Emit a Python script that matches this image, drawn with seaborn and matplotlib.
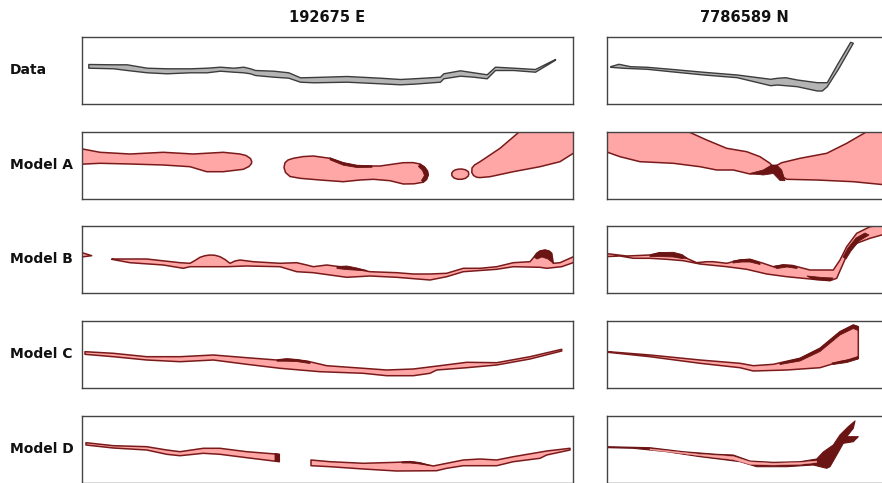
import numpy as np
import matplotlib
matplotlib.use("Agg")
import matplotlib.pyplot as plt
import seaborn as sns

sns.set_theme(style="white")
plt.rcParams['font.family'] = ['DejaVu Sans']

# ---------------- labels ----------------
col_titles = ["192675 E", "7786589 N"]
row_labels = ["Data", "Model A", "Model B", "Model C", "Model D"]

# ---------------- data (panel units: distance x, depth y) ----------------
# Data, 192675 E : band with shared x
data_e_x = [6.3, 31.3, 44.7, 64.7, 84.7, 108, 124.7, 138, 151.3, 161.3, 168, 173, 191.3, 206.3, 218,
            231.3, 264.7, 298, 318, 331.3, 358, 361.3, 378, 391.3, 404.7, 413, 431.3, 453, 473]
data_e_top = [27, 27.3, 27.3, 30.7, 31.3, 31.3, 30.7, 29.7, 30.7, 29.7, 31.3, 33, 33.7, 35.3, 40.3,
              40, 39, 40.7, 42, 41.3, 39.7, 36.3, 33.3, 35.3, 37.3, 29.7, 30.7, 32, 22]
data_e_bot = [30.7, 31.3, 33, 35.3, 36.3, 35.3, 35.3, 33.7, 34.7, 35.3, 36.3, 38, 39.7, 40.7, 44.7,
              45.3, 44.7, 46.3, 47.3, 46.7, 44.7, 41.3, 38.7, 39.7, 41.3, 33, 33, 34.7, 22.7]

# Data, 7786589 N : outline
data_n_x = [3.7, 12, 23.7, 40.3, 63.7, 97, 130.3, 163.7, 170.3, 178.7, 190.3, 210.3, 220.3, 230.3, 243.7,
            246.3, 232, 220.3, 215.3, 210.3, 190.3, 178.7, 170.3, 163.7, 130.3, 97, 63.7, 40.3, 17, 3.7]
data_n_y = [29.7, 27.3, 29.7, 30.3, 32.3, 35.3, 38, 42.3, 41.3, 40.7, 43, 45.7, 45.7, 28, 5.3,
            6.3, 31.3, 49.7, 54, 54, 49.7, 48.7, 48, 48.7, 40.7, 38, 34.7, 32.3, 31.3, 30.3]

# Model A, 192675 E : four bodies
mA_e1_x = [-3, 18, 48, 81.3, 111.3, 141.3, 158, 164, 168.5, 169.7, 169.5, 167, 161.3, 141.3, 124.7, 108,
           81.3, 48, 18, -3]
mA_e1_y = [16.3, 20.3, 22, 20.3, 22, 20.3, 22, 23.5, 26.5, 29.5, 31.5, 34.5, 37.3, 39.7, 39.7, 34.7,
           33, 32, 31.3, 32.3]
mA_e2_x = [203, 206, 211.3, 221, 231.3, 248, 261.3, 274.7, 298, 321.3, 331, 338, 342.5, 345.5, 346.3,
           344.5, 341.3, 332, 321.3, 308, 291.3, 278, 261.3, 238, 218, 208, 203.5, 202]
mA_e2_y = [30.7, 28, 26.3, 24.6, 24, 26.3, 31.3, 34, 34, 30.7, 30.6, 32, 35, 39, 43, 47.5, 50.2, 51.8,
           52, 48.7, 47.3, 48, 49.7, 48, 46.3, 44.5, 40.5, 35.5]
mA_e3_x = [369.7, 371, 373, 376, 379.7, 383.5, 386.3, 386.8, 386.3, 383.5, 379.7, 375.5, 372, 370]
mA_e3_y = [41.3, 39.3, 38, 37.2, 37, 37.8, 39.7, 42, 44, 46.3, 47.3, 47.2, 46, 43.8]
mA_e4_x = [390, 392.5, 398, 418, 436.3, 438, 495, 495, 491.3, 478, 458, 431.3, 408, 398, 394.7, 391.5,
           389.8]
mA_e4_y = [36, 33, 29.7, 16.3, 0.7, -3, -3, 19, 21.3, 29.7, 34.7, 39.7, 44.7, 45.6, 45.3, 43.5, 40.5]
mA_e_dark1_x = [248, 261.3, 275, 290, 290, 275, 261.3, 248]
mA_e_dark1_y = [25.8, 30.5, 33.2, 33.8, 35.3, 35.5, 33.2, 27.8]
mA_e_dark2_x = [338, 342.5, 345.5, 346.3, 344.5, 341.3, 339.5, 342.5, 340.5, 336.5]
mA_e_dark2_y = [32, 35, 39, 43, 47.5, 50.2, 48.5, 43.5, 38.5, 34.5]

# Model A, 7786589 N : two bodies meeting
mA_n1_x = [-3, 81.3, 99.7, 119.7, 139.7, 153, 163, 166.3, 156.3, 143, 126.3, 109.7, 93, 66.3, 33, 13, -3]
mA_n1_y = [-3, -0.3, 8, 16.3, 19.7, 24.7, 31.3, 35.3, 41.3, 42, 38, 38, 34.7, 31.3, 29.7, 24.7, 19]
mA_n2_x = [166.3, 174.7, 193, 219.7, 239.7, 259.7, 263, 285, 285, 246.3, 209.7, 179.7, 169.7]
mA_n2_y = [35.3, 30.7, 26.3, 21.3, 11.3, -0.3, -3, -3, 53.5, 49.7, 48, 47.3, 41.3]
mA_n_dark_x = [143, 156.3, 164.7, 169.7, 174.7, 178, 173, 166.3, 156.3]
mA_n_dark_y = [41.5, 38, 33, 33, 38, 48.7, 48.5, 41.5, 43]

# Model B, 192675 E
mB_e0_x = [-3, 9.7, -3]
mB_e0_y = [25.7, 29.7, 31.3]
mB_e_top_x = [29.7, 64.7, 98, 108, 113, 118, 123, 128, 133, 138, 143, 148, 153, 158, 171.3, 198, 214.7,
              224.7, 231.3, 244.7, 258, 274.7, 288, 314.7, 331.3, 348, 364.7, 381.3, 398, 414.7, 431.3,
              448, 452, 454.7, 458, 463, 467, 469.7, 471.3, 478, 493]
mB_e_top_y = [33, 33, 36.7, 37.3, 34.5, 31.3, 29.7, 29, 29.3, 30.7, 33.5, 37.3, 35, 34, 35.7, 37.3, 36.7,
              39, 40.7, 39, 40.7, 43.3, 45.7, 46.7, 48, 48, 47.3, 42.3, 42.3, 40.7, 36.7,
              35.7, 31, 27.3, 25, 24, 25, 27.3, 37.3, 36.7, 30]
mB_e_bot_x = [29.7, 48, 81.3, 101.3, 108, 144.7, 164.7, 198, 214.7, 231.3, 248, 264.7, 288, 314.7,
              348, 364.7, 381.3, 414.7, 431.3, 458, 464.7, 479.7, 493]
mB_e_bot_y = [33.3, 36.7, 39, 42.3, 40.7, 40.7, 40, 40.7, 45.7, 46.7, 49, 51.3, 50, 51.3,
              54, 50.7, 45.7, 43.3, 40.7, 41.3, 42.3, 40.7, 36]
mB_e_dark1_x = [452, 454.7, 458, 463, 467, 469.7, 471, 466, 460, 455]
mB_e_dark1_y = [31, 27.3, 25, 24, 25, 27.3, 37, 33, 31, 33]
mB_e_dark2_x = [255, 265, 275, 285, 275, 265, 255]
mB_e_dark2_y = [40.5, 40, 42, 44.5, 44.2, 43.6, 42.5]

# Model B, 7786589 N
mB_n_top_x = [-3, 19.7, 43, 53, 66.3, 79.7, 89.7, 99.7, 106.3, 119.7, 133, 143, 156.3, 166.3, 176.3,
              186.3, 203, 226.3, 233, 239.7, 249.7, 263, 274.7, 285]
mB_n_top_y = [27.3, 30, 29, 26.7, 27.3, 32.3, 36.7, 35.7, 35.7, 37.3, 34, 33.3, 37.3, 40.7, 39,
              39.7, 44, 44, 34, 20.7, 7.3, 0.7, -1, -2]
mB_n_bot_x = [-3, 13, 26.3, 43, 59.7, 76.3, 93, 119.7, 139.7, 159.7, 179.7, 206.3, 223, 229.7,
              236.3, 241.3, 249.7, 263, 274.7, 285]
mB_n_bot_y = [30.7, 30, 32.3, 32.3, 33.3, 34.7, 38, 40.7, 43.3, 48, 50.7, 53.3, 54.7, 52.3,
              37.3, 25.7, 17.3, 12.3, 9, 8]
mB_n_dark1_x = [43, 53, 66.3, 75, 80, 75, 66.3, 53, 43]
mB_n_dark1_y = [29, 26.5, 26.3, 28.5, 32, 32.5, 31, 30.5, 30.5]
mB_n_dark2_x = [126, 135, 143, 153, 153, 143, 135, 126]
mB_n_dark2_y = [35, 33.5, 33.3, 36.5, 38.5, 36, 36, 37]
mB_n_dark3_x = [166, 176, 186, 190, 190, 180, 170]
mB_n_dark3_y = [40.5, 38.7, 39.3, 41, 42.5, 41, 42.5]
mB_n_dark4_x = [200, 215, 226, 223, 206]
mB_n_dark4_y = [50, 51.5, 52, 54.7, 53.5]
mB_n_dark5_x = [236, 241, 249, 258, 262, 252, 244, 239]
mB_n_dark5_y = [31, 22, 12, 7, 9, 15, 25, 33]

# Model C, 192675 E
mC_e_top_x = [3, 31.3, 64.7, 98, 131.3, 164.7, 194.7, 204.7, 224.7, 244.7, 281.3, 304.7, 331.3, 358,
              384.7, 414.7, 448, 479.7]
mC_e_top_y = [30.7, 32.3, 35.7, 35.7, 34, 36.7, 39, 38, 40, 44.7, 47.3, 49, 48, 44.7,
              41.3, 41.7, 35.7, 28.3]
mC_e_bot_x = [3, 31.3, 64.7, 98, 131.3, 164.7, 198, 238, 281.3, 304.7, 331.3, 348, 354.7, 384.7,
              414.7, 448, 479.7]
mC_e_bot_y = [33.3, 35.7, 39, 40.7, 39, 43.3, 47.3, 50.7, 52.3, 54.7, 54.7, 52.3, 49, 46.7,
              44, 38, 30]
mC_e_dark_x = [195, 205, 215, 228, 228, 215, 205, 195]
mC_e_dark_y = [39, 37.8, 38.4, 41, 42.5, 40.6, 40.2, 40.2]

# Model C, 7786589 N
mC_n_top_x = [1.3, 43, 93, 133, 146.3, 166.3, 193, 213, 233, 246.3, 251.3]
mC_n_top_y = [30.7, 34, 39, 42.3, 44.7, 43.3, 37.3, 27.3, 10.7, 4, 5.7]
mC_n_bot_x = [1.3, 43, 93, 133, 146.3, 179.7, 213, 233, 251.3]
mC_n_bot_y = [31.3, 35.7, 42.3, 46.7, 50, 49, 46.7, 40.7, 37.3]
mC_n_dark1_x = [173, 193, 213, 233, 246.3, 251.3, 251.3, 246.3, 233, 213, 193, 173]
mC_n_dark1_y = [42, 37.3, 27.3, 10.7, 4, 5.7, 9.5, 7.5, 14, 30.5, 40, 43.5]
mC_n_dark2_x = [225, 240, 251, 251.3, 240, 226]
mC_n_dark2_y = [42, 39, 35.5, 38, 41.5, 43.5]

# Model D, 192675 E
mD_e1_x = [4, 31.3, 64.7, 84.7, 98, 121.3, 138, 164.7, 197.3, 197.3, 164.7, 138, 121.3, 98, 84.7,
           64.7, 31.3, 4]
mD_e1_y = [26.7, 29.7, 30.7, 34, 35.7, 32.3, 32.3, 35.7, 38.3, 45.7, 41.7, 38.3, 37.3, 39.7, 38.3,
           34, 32, 29]
mD_e2_top_x = [229, 248, 281.3, 314.7, 328, 338, 351.3, 364.7, 381.3, 398, 414.7, 431.3, 451.3,
               464.7, 488]
mD_e2_top_y = [44, 45.7, 47.3, 46.3, 45.7, 47.3, 50, 47.3, 44, 43, 44, 40.7, 37.3, 35, 32.3]
mD_e2_bot_x = [229, 248, 281.3, 314.7, 354.7, 364.7, 381.3, 414.7, 431.3, 458, 464.7, 488]
mD_e2_bot_y = [49.7, 50.7, 53, 55, 54.7, 52.3, 49.7, 49.7, 45.7, 42.3, 39, 34]
mD_e_dark1_x = [193, 197.3, 197.3, 193]
mD_e_dark1_y = [37.5, 38.3, 45.7, 45]
mD_e_dark2_x = [320, 328, 338, 348, 338, 328, 320]
mD_e_dark2_y = [46, 45.3, 46.5, 49.5, 48, 47, 47]

# Model D, 7786589 N
mD_n_x = [1.3, 43, 76.3, 109.7, 126.3, 143, 166.3, 193, 209.7, 216.3, 226.3, 233, 241.3, 248,
          246.3, 239.7, 251.3, 246.3, 236.3, 229.7, 223, 219.7, 206.3, 179.7, 149.7, 133, 119.7,
          93, 59.7, 26.3, 1.3]
mD_n_y = [30.7, 31.7, 35.7, 38.3, 39, 45, 46.3, 45.7, 43, 36, 29, 19, 10.7, 5,
          12.3, 20.7, 20.7, 25.7, 27.3, 39, 50.7, 52.3, 49, 50.7, 50.7, 45.7, 44,
          40.7, 35.7, 32.3, 31.7]
mD_n_core_x = [43, 93, 126.3, 143, 166.3, 193, 209.7, 209.7, 193, 166.3, 143, 126.3, 93, 43]
mD_n_core_y = [32.9, 38.3, 40.5, 45.9, 47.3, 46.5, 45, 46.5, 48.3, 49, 48.4, 43.6, 39.7, 33.8]

# ---------------- style ----------------
PINK = "#ffa6a6"
EDGE = "#7a1a1a"
DARK = "#6b1414"
GREY = "#b4b4b4"
GREY_EDGE = "#3c3c3c"

W_PX, H_PX = 882, 483
fig = plt.figure(figsize=(W_PX / 100, H_PX / 100), dpi=100)

row_tops = [37, 132, 226, 321, 416]
PANEL_H = 67
cols = [(82, 491), (607, 280)]


def make_ax(r, c):
    left, width = cols[c]
    top = row_tops[r]
    ax = fig.add_axes([left / W_PX, 1 - (top + PANEL_H) / H_PX, width / W_PX, PANEL_H / H_PX])
    ax.set_xlim(0, width)
    ax.set_ylim(PANEL_H, 0)
    ax.set_xticks([])
    ax.set_yticks([])
    for s in ax.spines.values():
        s.set_color("#444444")
        s.set_linewidth(1.0)
    ax.set_facecolor("white")
    return ax


def poly(ax, xs, ys, fc=PINK, ec=EDGE, lw=1.1):
    ax.fill(xs, ys, facecolor=fc, edgecolor=ec, linewidth=lw, joinstyle="round")


def band(ax, tx, ty, bx, by, fc=PINK, ec=EDGE, lw=1.1):
    xs = list(tx) + list(bx)[::-1]
    ys = list(ty) + list(by)[::-1]
    poly(ax, xs, ys, fc, ec, lw)


axes = [[make_ax(r, c) for c in range(2)] for r in range(5)]

# Data
ax = axes[0][0]
ax.fill_between(data_e_x, data_e_top, data_e_bot, facecolor=GREY, edgecolor=GREY_EDGE, linewidth=1.0)
ax = axes[0][1]
poly(ax, data_n_x, data_n_y, fc=GREY, ec=GREY_EDGE, lw=1.0)

# Model A
ax = axes[1][0]
for xs, ys in [(mA_e1_x, mA_e1_y), (mA_e2_x, mA_e2_y), (mA_e3_x, mA_e3_y), (mA_e4_x, mA_e4_y)]:
    poly(ax, xs, ys)
poly(ax, mA_e_dark1_x, mA_e_dark1_y, fc=DARK, ec=DARK, lw=0.6)
poly(ax, mA_e_dark2_x, mA_e_dark2_y, fc=DARK, ec=DARK, lw=0.6)
ax = axes[1][1]
poly(ax, mA_n1_x, mA_n1_y)
poly(ax, mA_n2_x, mA_n2_y)
poly(ax, mA_n_dark_x, mA_n_dark_y, fc=DARK, ec=DARK, lw=0.6)

# Model B
ax = axes[2][0]
poly(ax, mB_e0_x, mB_e0_y)
band(ax, mB_e_top_x, mB_e_top_y, mB_e_bot_x, mB_e_bot_y)
poly(ax, mB_e_dark1_x, mB_e_dark1_y, fc=DARK, ec=DARK, lw=0.6)
poly(ax, mB_e_dark2_x, mB_e_dark2_y, fc=DARK, ec=DARK, lw=0.6)
ax = axes[2][1]
band(ax, mB_n_top_x, mB_n_top_y, mB_n_bot_x, mB_n_bot_y)
for xs, ys in [(mB_n_dark1_x, mB_n_dark1_y), (mB_n_dark2_x, mB_n_dark2_y), (mB_n_dark3_x, mB_n_dark3_y),
               (mB_n_dark4_x, mB_n_dark4_y), (mB_n_dark5_x, mB_n_dark5_y)]:
    poly(ax, xs, ys, fc=DARK, ec=DARK, lw=0.6)

# Model C
ax = axes[3][0]
band(ax, mC_e_top_x, mC_e_top_y, mC_e_bot_x, mC_e_bot_y)
poly(ax, mC_e_dark_x, mC_e_dark_y, fc=DARK, ec=DARK, lw=0.6)
ax = axes[3][1]
band(ax, mC_n_top_x, mC_n_top_y, mC_n_bot_x, mC_n_bot_y)
poly(ax, mC_n_dark1_x, mC_n_dark1_y, fc=DARK, ec=DARK, lw=0.6)
poly(ax, mC_n_dark2_x, mC_n_dark2_y, fc=DARK, ec=DARK, lw=0.6)

# Model D
ax = axes[4][0]
poly(ax, mD_e1_x, mD_e1_y)
band(ax, mD_e2_top_x, mD_e2_top_y, mD_e2_bot_x, mD_e2_bot_y)
poly(ax, mD_e_dark1_x, mD_e_dark1_y, fc=DARK, ec=DARK, lw=0.6)
poly(ax, mD_e_dark2_x, mD_e_dark2_y, fc=DARK, ec=DARK, lw=0.6)
ax = axes[4][1]
poly(ax, mD_n_x, mD_n_y, fc=DARK, ec=DARK, lw=0.8)
poly(ax, mD_n_core_x, mD_n_core_y, fc=PINK, ec=PINK, lw=0.3)

# Titles and row labels
for c, t in enumerate(col_titles):
    left, width = cols[c]
    cx = left + (width if c == 0 else 275) / 2
    fig.text(cx / W_PX, 1 - 17 / H_PX, t, ha="center", va="center", fontsize=10.5, fontweight="bold",
             color="#111111")
for r, lab in enumerate(row_labels):
    fig.text(10 / W_PX, 1 - (row_tops[r] + 33) / H_PX, lab, ha="left", va="center", fontsize=10,
             fontweight="bold", color="#111111")

fig.savefig("out.png", dpi=100, facecolor="white")
